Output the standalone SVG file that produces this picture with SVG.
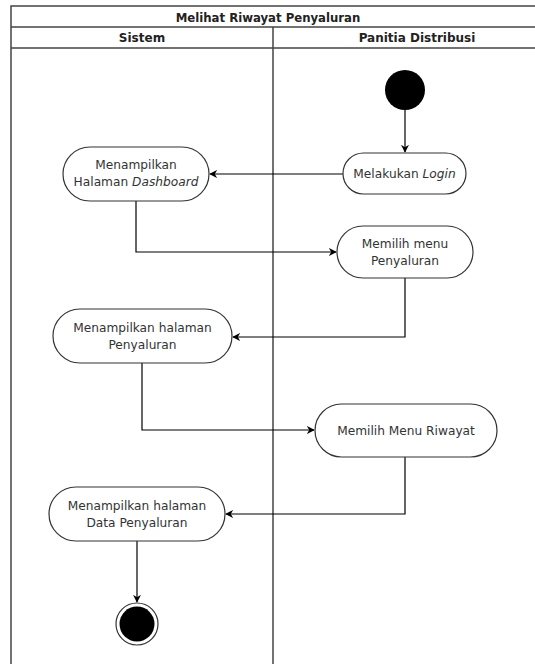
<svg xmlns="http://www.w3.org/2000/svg" width="535" height="664" viewBox="0 0 535 664">
<style>
.frame{fill:none;stroke:#444;stroke-width:1.5}
.node{fill:#fff;stroke:#333;stroke-width:1.2}
.t{font-family:"DejaVu Sans",Verdana,sans-serif;font-size:12.2px;fill:#333;text-anchor:middle}
.h{font-family:"DejaVu Sans",Verdana,sans-serif;font-size:12px;font-weight:bold;fill:#222;text-anchor:middle}
.title{font-family:"DejaVu Sans Condensed","DejaVu Sans",Verdana,sans-serif;font-size:13px;font-weight:bold;fill:#222;text-anchor:middle}
.edge{fill:none;stroke:#000;stroke-width:1.2}
</style>
<defs>
<marker id="arr" viewBox="0 0 10 10" refX="9" refY="5" markerWidth="8" markerHeight="8" markerUnits="userSpaceOnUse" orient="auto">
<path d="M0,0 L10,5 L0,10 L3,5 Z" fill="#000"/>
</marker>
</defs>
<rect width="535" height="664" fill="#fff"/>
<g id="frame">
<path class="frame" d="M11,666 V6 H540 M11,27 H540 M11,48 H540 M273,27 V666"/>
<text class="title" x="268" y="21.5">Melihat Riwayat Penyaluran</text>
<text class="h" x="142" y="42">Sistem</text>
<text class="h" x="417" y="42">Panitia Distribusi</text>
</g>
<g id="connectors">
<path class="edge" d="M405,110 V152" marker-end="url(#arr)"/>
<path class="edge" d="M343,174 H210" marker-end="url(#arr)"/>
<path class="edge" d="M136,201 V252 H336" marker-end="url(#arr)"/>
<path class="edge" d="M405,278 V337 H233" marker-end="url(#arr)"/>
<path class="edge" d="M142,363 V430 H314" marker-end="url(#arr)"/>
<path class="edge" d="M405,457 V514 H226" marker-end="url(#arr)"/>
<path class="edge" d="M137,541 V602" marker-end="url(#arr)"/>
</g>
<g id="start"><circle cx="405" cy="90" r="20" fill="#000"/></g>
<g id="login">
<rect class="node" x="343" y="153" width="123" height="41" rx="20.5"/>
<text class="t" x="404.5" y="178">Melakukan <tspan font-style="italic">Login</tspan></text>
</g>
<g id="dashboard">
<rect class="node" x="63" y="147" width="146" height="54" rx="27"/>
<text class="t" x="136" y="169">Menampilkan</text>
<text class="t" x="136" y="186">Halaman <tspan font-style="italic">Dashboard</tspan></text>
</g>
<g id="menu">
<rect class="node" x="337" y="226" width="136" height="52" rx="26"/>
<text class="t" x="405" y="248">Memilih menu</text>
<text class="t" x="405" y="265">Penyaluran</text>
</g>
<g id="penyaluran">
<rect class="node" x="53" y="309" width="179" height="54" rx="27"/>
<text class="t" x="142.5" y="332">Menampilkan halaman</text>
<text class="t" x="142.5" y="349">Penyaluran</text>
</g>
<g id="riwayat">
<rect class="node" x="315" y="404" width="182" height="53" rx="26.5"/>
<text class="t" x="406" y="435">Memilih Menu Riwayat</text>
</g>
<g id="data">
<rect class="node" x="49" y="487" width="176" height="54" rx="27"/>
<text class="t" x="137" y="510">Menampilkan halaman</text>
<text class="t" x="137" y="527">Data Penyaluran</text>
</g>
<g id="end">
<circle cx="137" cy="624" r="21" fill="#fff" stroke="#333" stroke-width="1.2"/>
<circle cx="137" cy="624" r="17.5" fill="#000"/>
</g>
</svg>
